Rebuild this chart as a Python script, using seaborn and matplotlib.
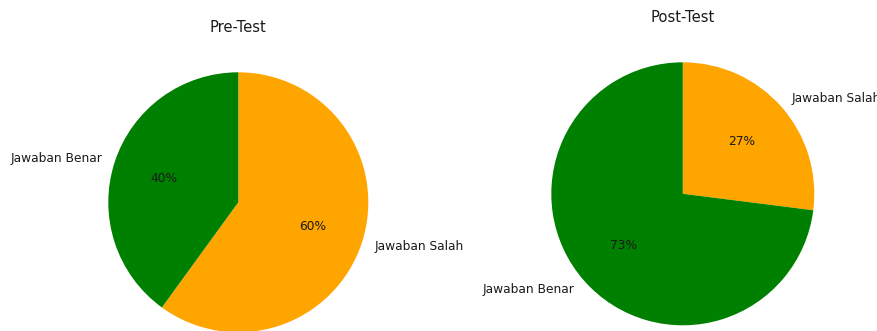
import matplotlib
matplotlib.use("Agg")
import matplotlib.pyplot as plt
import seaborn as sns

sns.set_style("white")
plt.rcParams['font.family'] = ['DejaVu Sans']

labels = ["Jawaban Salah", "Jawaban Benar"]
colors = ["orange", "green"]
pre_values = [60, 40]
post_values = [27, 73]
titles = ["Pre-Test", "Post-Test"]

W, H = 878, 331
fig = plt.figure(figsize=(W / 100, H / 100), dpi=100)

# (center x px, center y px from bottom, radius px, title y px from bottom)
layouts = [(238.3, 128.7, 130.0, 303.0), (682.8, 137.2, 131.5, 314.0)]

for vals, title, (cx, cy, r, ty) in zip([pre_values, post_values], titles, layouts):
    side = 2.5 * r
    ax = fig.add_axes([(cx - side / 2) / W, (cy - side / 2) / H, side / W, side / H])
    ax.pie(vals, labels=labels, colors=colors, autopct='%1.0f%%', startangle=90,
           counterclock=False, wedgeprops={'linewidth': 0},
           textprops={'fontsize': 8.8, 'color': '#1a1a1a'})
    ax.set_xlim(-1.25, 1.25)
    ax.set_ylim(-1.25, 1.25)
    ax.set_aspect('equal')
    ax.axis('off')
    ax.set_title(title, fontsize=10.6, color='#1a1a1a', y=(ty - (cy - side / 2)) / side,
                 va='center', pad=0)

fig.savefig("out.png", dpi=100)
